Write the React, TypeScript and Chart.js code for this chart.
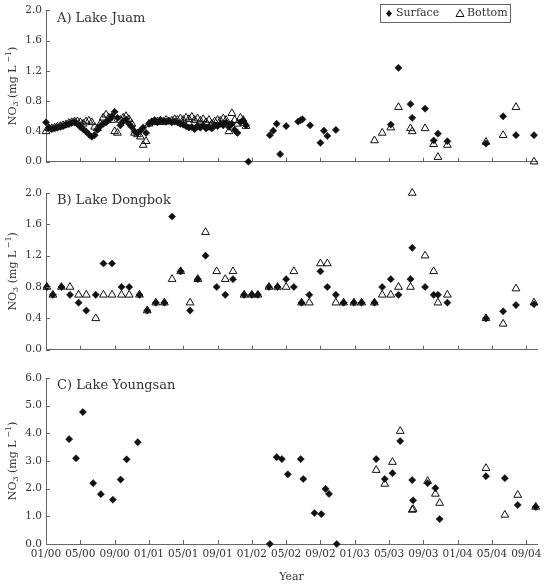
import React, { useEffect, useRef } from "react";
import { Chart, registerables } from "chart.js";

Chart.register(...registerables);

const FONT = '"DejaVu Serif", serif';
const INK = "#111";
const TEXT = "#333";
const AXIS = "#666";

// x axis: months elapsed since January 2000
const X_MAX = 57.25;
const X_TICK_MONTHS = [0, 4, 8, 12, 16, 20, 24, 28, 32, 36, 40, 44, 48, 52, 56];

// ---- Lake Juam ----
// frequent sampling, Jan 2000 - Dec 2001
const juamDenseMonths = [
  0, 0.33, 0.67, 1, 1.33, 1.67, 2, 2.33, 2.67, 3, 3.33, 3.67, 4, 4.33, 4.67, 5, 5.33, 5.67,
  6, 6.33, 6.67, 7, 7.33, 7.67, 8, 8.33, 8.67, 9, 9.33, 9.67, 10, 10.33, 10.67, 11, 11.33, 11.67,
  12, 12.33, 12.67, 13, 13.33, 13.67, 14, 14.33, 14.67, 15, 15.33, 15.67, 16, 16.33, 16.67, 17,
  17.33, 17.67, 18, 18.33, 18.67, 19, 19.33, 19.67, 20, 20.33, 20.67, 21, 21.33, 21.67, 22, 22.33,
  22.67, 23, 23.33,
];
const juamDenseSurface = [
  0.52, 0.45, 0.43, 0.44, 0.45, 0.46, 0.47, 0.49, 0.5, 0.51,
  0.52, 0.5, 0.46, 0.43, 0.4, 0.36, 0.33, 0.35, 0.42, 0.47,
  0.5, 0.52, 0.55, 0.6, 0.66, 0.58, 0.48, 0.53, 0.56, 0.5,
  0.46, 0.4, 0.38, 0.41, 0.45, 0.38, 0.5, 0.53, 0.55, 0.52,
  0.55, 0.54, 0.53, 0.54, 0.52, 0.53, 0.52, 0.5, 0.49, 0.47,
  0.45, 0.46, 0.43, 0.47, 0.45, 0.48, 0.44, 0.46, 0.44, 0.48,
  0.47, 0.5, 0.48, 0.52, 0.46, 0.5, 0.42, 0.38, 0.52, 0.54,
  0.48,
];
const juamDenseBottom = [
  0.4, 0.44, 0.44, 0.45, 0.46, 0.47, 0.48, 0.49, 0.51, 0.52,
  0.53, 0.53, 0.52, 0.5, 0.53, 0.54, 0.52, 0.46, 0.44, 0.5,
  0.58, 0.62, 0.58, 0.55, 0.4, 0.38, 0.55, 0.58, 0.6, 0.56,
  0.5, 0.38, 0.36, 0.33, 0.22, 0.27, 0.5, 0.52, 0.52, 0.53,
  0.54, 0.52, 0.55, 0.53, 0.54, 0.56, 0.55, 0.57, 0.55, 0.58,
  0.56, 0.59, 0.55, 0.57, 0.54, 0.56, 0.52, 0.55, 0.5, 0.53,
  0.55, 0.54, 0.57, 0.55, 0.4, 0.64, 0.55, 0.5, 0.58, 0.55,
  0.47,
];
// sparse sampling from 2002 onward
const juamSurfaceMonths = [
  23.6, 26.1, 26.5, 26.9, 27.3, 28.0, 29.4, 29.7, 29.9, 30.8, 32.0, 32.4, 32.8, 33.8,
  40.2, 41.1, 42.5, 42.7, 44.2, 45.2, 45.7, 46.8, 51.3, 53.3, 54.8, 56.9,
];
const juamSurfaceValues = [
  0.0, 0.35, 0.41, 0.5, 0.1, 0.47, 0.53, 0.55, 0.56, 0.48, 0.25, 0.41, 0.34, 0.42,
  0.49, 1.24, 0.76, 0.58, 0.7, 0.28, 0.37, 0.27, 0.24, 0.6, 0.35, 0.35,
];
const juamBottomMonths = [38.3, 39.2, 40.2, 41.1, 42.5, 42.7, 44.2, 45.2, 45.7, 46.8, 51.3, 53.3, 54.8, 56.9];
const juamBottomValues = [0.28, 0.38, 0.45, 0.72, 0.44, 0.4, 0.44, 0.23, 0.06, 0.22, 0.26, 0.35, 0.72, 0.0];

// ---- Lake Dongbok ----
const dongbokMonths = [
  0.1, 0.8, 1.8, 2.8, 3.8, 4.7, 5.8, 6.7, 7.7, 8.8, 9.7, 10.9, 11.8, 12.8, 13.8, 14.7, 15.7,
  16.8, 17.7, 18.6, 19.9, 20.9, 21.8, 23.1, 24.0, 24.7, 26.0, 27.0, 28.0, 28.9, 29.8, 30.7,
  32.0, 32.8, 33.8, 34.7, 35.9, 36.8, 38.3, 39.2, 40.2, 41.1, 42.5, 42.7, 44.2, 45.2, 45.7,
  46.8, 51.3, 53.3, 54.8, 56.9,
];
const dongbokSurface = [
  0.8, 0.7, 0.8, 0.7, 0.6, 0.5, 0.7, 1.1, 1.1, 0.8, 0.8, 0.7, 0.5, 0.6, 0.6, 1.7, 1.0,
  0.5, 0.9, 1.2, 0.8, 0.7, 0.9, 0.7, 0.7, 0.7, 0.8, 0.8, 0.9, 0.8, 0.6, 0.7,
  1.0, 0.8, 0.7, 0.6, 0.6, 0.6, 0.6, 0.8, 0.9, 0.7, 0.9, 1.3, 0.8, 0.7, 0.7,
  0.6, 0.4, 0.49, 0.57, 0.58,
];
const dongbokBottom = [
  0.8, 0.7, 0.8, 0.8, 0.7, 0.7, 0.4, 0.7, 0.7, 0.7, 0.7, 0.7, 0.5, 0.6, 0.6, 0.9, 1.0,
  0.6, 0.9, 1.5, 1.0, 0.9, 1.0, 0.7, 0.7, 0.7, 0.8, 0.8, 0.8, 1.0, 0.6, 0.6,
  1.1, 1.1, 0.6, 0.6, 0.6, 0.6, 0.6, 0.7, 0.7, 0.8, 0.8, 2.0, 1.2, 1.0, 0.6,
  0.7, 0.4, 0.33, 0.78, 0.6,
];

// ---- Lake Youngsan ----
const youngsanSurfaceMonths = [
  2.7, 3.5, 4.3, 5.5, 6.4, 7.8, 8.7, 9.4, 10.7, 26.1, 26.9, 27.5, 28.2, 29.7, 30.0, 31.3,
  32.1, 32.6, 33.0, 33.9, 38.5, 39.5, 40.4, 41.3, 42.7, 42.8, 44.5, 45.4, 45.9, 51.3, 53.5,
  55.0, 57.1,
];
const youngsanSurfaceValues = [
  3.79, 3.1, 4.77, 2.2, 1.8, 1.6, 2.33, 3.06, 3.68, 0.0, 3.14, 3.07, 2.52, 3.07, 2.35, 1.12,
  1.08, 1.99, 1.81, 0.0, 3.07, 2.35, 2.56, 3.72, 2.31, 1.58, 2.2, 2.02, 0.9, 2.45, 2.38,
  1.41, 1.34,
];
const youngsanBottomMonths = [38.5, 39.5, 40.4, 41.3, 42.7, 42.8, 44.5, 45.4, 45.9, 51.3, 53.5, 55.0, 57.1];
const youngsanBottomValues = [2.67, 2.17, 2.96, 4.08, 1.23, 1.26, 2.27, 1.81, 1.48, 2.74, 1.05, 1.77, 1.34];

type Pt = { x: number; y: number };
const zip = (xs: number[], ys: number[]): Pt[] => xs.map((x, i) => ({ x, y: ys[i] }));

const monthLabel = (m: number) => {
  const mm = (Math.round(m) % 12) + 1;
  const yy = Math.floor(Math.round(m) / 12);
  return `${String(mm).padStart(2, "0")}/${String(yy).padStart(2, "0")}`;
};

type PanelSpec = {
  title: string;
  top: number;
  height: number;
  padTop: number;
  xHeight: number;
  yMax: number;
  yStep: number;
  surface: Pt[];
  bottom: Pt[];
  bottomAxis: boolean;
  legend: boolean;
};

const PANELS: PanelSpec[] = [
  {
    title: "A) Lake Juam",
    top: 0,
    height: 172,
    padTop: 8,
    xHeight: 0,
    yMax: 2,
    yStep: 0.4,
    surface: [...zip(juamDenseMonths, juamDenseSurface), ...zip(juamSurfaceMonths, juamSurfaceValues)],
    bottom: [...zip(juamDenseMonths, juamDenseBottom), ...zip(juamBottomMonths, juamBottomValues)],
    bottomAxis: false,
    legend: true,
  },
  {
    title: "B) Lake Dongbok",
    top: 180,
    height: 180,
    padTop: 13,
    xHeight: 0,
    yMax: 2,
    yStep: 0.4,
    surface: zip(dongbokMonths, dongbokSurface),
    bottom: zip(dongbokMonths, dongbokBottom),
    bottomAxis: false,
    legend: false,
  },
  {
    title: "C) Lake Youngsan",
    top: 360,
    height: 228,
    padTop: 18,
    xHeight: 44,
    yMax: 6,
    yStep: 1,
    surface: zip(youngsanSurfaceMonths, youngsanSurfaceValues),
    bottom: zip(youngsanBottomMonths, youngsanBottomValues),
    bottomAxis: true,
    legend: false,
  },
];

function drawYTitle(ctx: CanvasRenderingContext2D, cx: number, cy: number) {
  const big = `11px ${FONT}`;
  const small = `8px ${FONT}`;
  const parts = [
    { t: "NO", f: big, dy: 0 },
    { t: "3", f: small, dy: 3 },
    { t: " (mg L", f: big, dy: 0 },
    { t: " \u22121", f: small, dy: -4 },
    { t: ")", f: big, dy: 0 },
  ];
  ctx.save();
  ctx.translate(cx, cy);
  ctx.rotate(-Math.PI / 2);
  ctx.textBaseline = "middle";
  ctx.textAlign = "left";
  ctx.fillStyle = TEXT;
  let total = 0;
  const widths = parts.map((p) => {
    ctx.font = p.f;
    const w = ctx.measureText(p.t).width;
    total += w;
    return w;
  });
  let x = -total / 2;
  parts.forEach((p, i) => {
    ctx.font = p.f;
    ctx.fillText(p.t, x, p.dy);
    x += widths[i];
  });
  ctx.restore();
}

function drawLegend(ctx: CanvasRenderingContext2D, right: number) {
  const x0 = right - 157;
  const y0 = 4.5;
  const w = 130;
  const h = 18;
  ctx.save();
  ctx.strokeStyle = AXIS;
  ctx.lineWidth = 1;
  ctx.strokeRect(Math.round(x0) + 0.5, y0, w, h);
  const cy = y0 + h / 2;
  // filled diamond
  const dx = x0 + 9;
  ctx.fillStyle = INK;
  ctx.beginPath();
  ctx.moveTo(dx, cy - 3.5);
  ctx.lineTo(dx + 3, cy);
  ctx.lineTo(dx, cy + 3.5);
  ctx.lineTo(dx - 3, cy);
  ctx.closePath();
  ctx.fill();
  // open triangle
  const tx = x0 + 80;
  ctx.strokeStyle = INK;
  ctx.beginPath();
  ctx.moveTo(tx, cy - 4);
  ctx.lineTo(tx + 4, cy + 3);
  ctx.lineTo(tx - 4, cy + 3);
  ctx.closePath();
  ctx.stroke();
  ctx.fillStyle = TEXT;
  ctx.font = `11px ${FONT}`;
  ctx.textBaseline = "middle";
  ctx.textAlign = "left";
  ctx.fillText("Surface", x0 + 16, cy);
  ctx.fillText("Bottom", x0 + 87, cy);
  ctx.restore();
}

function makeDecor(spec: PanelSpec) {
  return {
    id: "panelDecor",
    afterDraw(chart: any) {
      const { ctx, chartArea: a, scales } = chart;
      ctx.save();
      ctx.strokeStyle = AXIS;
      ctx.lineWidth = 1;
      ctx.beginPath();
      for (const m of X_TICK_MONTHS) {
        const px = Math.round(scales.x.getPixelForValue(m)) + 0.5;
        ctx.moveTo(px, a.bottom);
        ctx.lineTo(px, a.bottom - 4);
      }
      for (const t of scales.y.ticks) {
        const py = Math.round(scales.y.getPixelForValue(t.value)) + 0.5;
        ctx.moveTo(a.left, py);
        ctx.lineTo(a.left + 4, py);
      }
      ctx.stroke();
      ctx.fillStyle = TEXT;
      ctx.font = `13px ${FONT}`;
      ctx.textBaseline = "middle";
      ctx.textAlign = "left";
      ctx.fillText(spec.title, a.left + 11, a.top + 8);
      ctx.restore();
      drawYTitle(ctx, 13, (a.top + a.bottom) / 2);
      if (spec.legend) drawLegend(ctx, a.right);
    },
  };
}

function Panel({ spec }: { spec: PanelSpec }) {
  const ref = useRef<HTMLCanvasElement>(null);
  useEffect(() => {
    if (!ref.current) return;
    const chart = new Chart(ref.current, {
      type: "scatter",
      data: {
        datasets: [
          {
            label: "Surface",
            data: spec.surface,
            pointStyle: "rectRot",
            pointRadius: 3.6,
            pointHoverRadius: 3.6,
            backgroundColor: INK,
            borderColor: INK,
            borderWidth: 0.5,
            order: 2,
            clip: false,
          },
          {
            label: "Bottom",
            data: spec.bottom,
            pointStyle: "triangle",
            pointRadius: 4.5,
            pointHoverRadius: 4.5,
            backgroundColor: "rgba(0,0,0,0)",
            borderColor: INK,
            borderWidth: 1,
            order: 1,
            clip: false,
          },
        ],
      },
      options: {
        responsive: false,
        animation: false,
        devicePixelRatio: 1,
        layout: { padding: { left: 0, right: 9, top: spec.padTop, bottom: spec.bottomAxis ? 0 : 4 } },
        plugins: { legend: { display: false }, tooltip: { enabled: false } },
        scales: {
          x: {
            type: "linear",
            min: 0,
            max: X_MAX,
            grid: { display: false, drawTicks: false },
            border: { display: true, color: AXIS, width: 1 },
            ticks: {
              display: spec.bottomAxis,
              stepSize: 4,
              includeBounds: false,
              autoSkip: false,
              maxRotation: 0,
              padding: 4,
              color: TEXT,
              font: { family: FONT, size: 10.5 },
              callback: (v: any) => monthLabel(Number(v)),
            },
            title: {
              display: spec.bottomAxis,
              text: "Year",
              color: TEXT,
              font: { family: FONT, size: 11 },
              padding: { top: 2, bottom: 4 },
            },
            afterFit: (s: any) => {
              s.height = spec.xHeight;
            },
          },
          y: {
            type: "linear",
            min: 0,
            max: spec.yMax,
            grid: { display: false, drawTicks: false },
            border: { display: true, color: AXIS, width: 1 },
            ticks: {
              stepSize: spec.yStep,
              padding: 4,
              color: TEXT,
              font: { family: FONT, size: 10.5 },
              callback: (v: any) => Number(v).toFixed(1),
            },
            afterFit: (s: any) => {
              s.width = 46;
            },
          },
        },
      },
      plugins: [makeDecor(spec)],
    } as any);
    return () => chart.destroy();
  }, [spec]);
  return (
    <canvas
      ref={ref}
      width={546}
      height={spec.height}
      style={{ position: "absolute", left: 0, top: spec.top, width: 546, height: spec.height }}
    />
  );
}

export default function App() {
  return (
    <div style={{ position: "absolute", left: 0, top: 0, width: 546, height: 588, background: "#fff" }}>
      {PANELS.map((p) => (
        <Panel key={p.title} spec={p} />
      ))}
    </div>
  );
}
